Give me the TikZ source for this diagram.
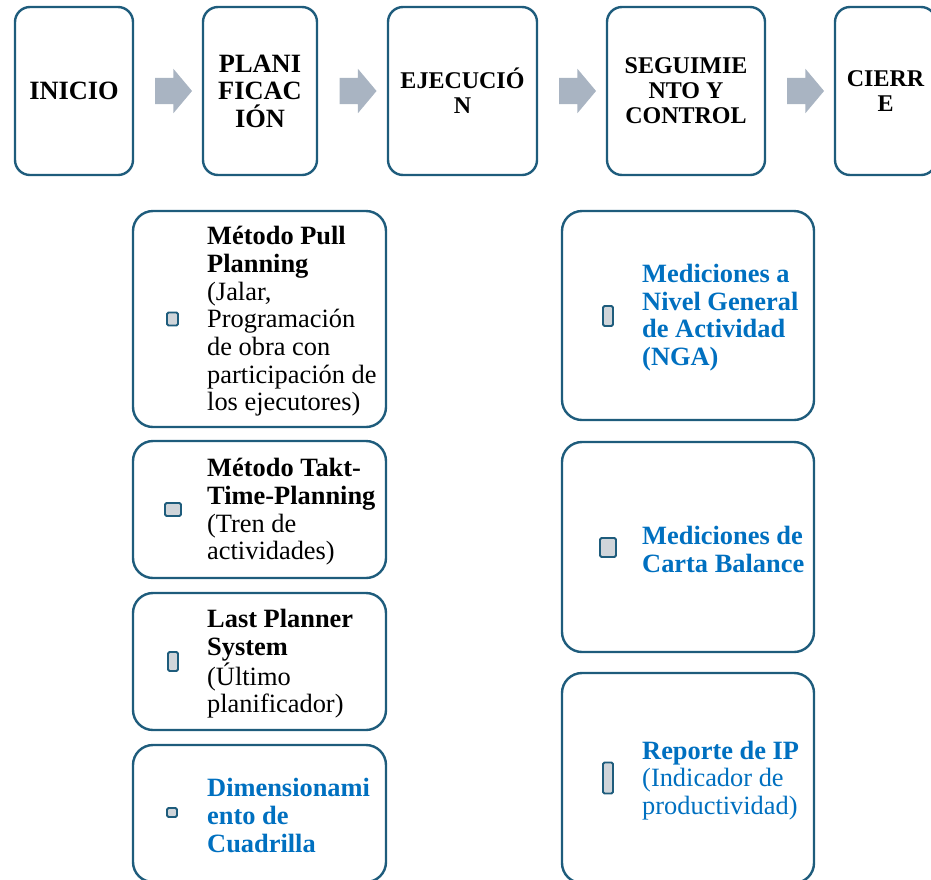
\documentclass[tikz,border=0pt]{standalone}
\usepackage{fontspec}
\setmainfont{Liberation Serif}
\usetikzlibrary{positioning,calc,shapes.arrows}

\definecolor{borde}{HTML}{1E5C7C}
\definecolor{azul}{HTML}{0070C0}
\definecolor{grisflecha}{HTML}{A9B4C2}
\definecolor{grisvineta}{HTML}{D0D5DA}

\begin{document}
\begin{tikzpicture}[x=1pt, y=-1pt,
		etapa/.style={draw=borde, line width=2.4pt, rounded corners=15pt, fill=white, align=center, inner sep=0pt, minimum height=168pt, font=\fontsize{24}{25}\selectfont\bfseries},
		grande/.style={font=\fontsize{26.4}{27.5}\selectfont\bfseries},
		caja/.style={draw=borde, line width=2.4pt, rounded corners=20pt, fill=white},
		vineta/.style={draw=borde, fill=grisvineta, line width=1.9pt, rounded corners=1.5pt, inner sep=0pt},
		texto/.style={anchor=west, align=left, inner sep=0pt, font=\fontsize{26.4}{27.7}\selectfont},
		textoazul/.style={texto, text=azul, font=\fontsize{26.4}{27.7}\selectfont\bfseries},
		flecha/.style={single arrow, fill=grisflecha, inner sep=0pt, inner ysep=13pt, minimum height=37pt, single arrow head extend=9pt, single arrow tip angle=100}]
			\useasboundingbox (0,0) rectangle (931,879);
			\clip (0,0) rectangle (931,879);
			% etapas
			\node [etapa, grande, minimum width=118pt] (inicio) at (74,91) {INICIO};
			\node [etapa, grande, minimum width=114pt] (plan) at (260,91) {PLANI\\FICAC\\IÓN};
			\node [etapa, minimum width=149pt] (ejec) at (462.5,91) {EJECUCIÓ\\N};
			\node [etapa, minimum width=158pt] (segui) at (686,91) {SEGUIMIE\\NTO Y\\CONTROL};
			\node [etapa, minimum width=101pt] (cierre) at (885.5,91) {CIERR\\E};
			\foreach \a/\b [count=\i] in {inicio/plan, plan/ejec, ejec/segui, segui/cierre}
				\node [flecha] (f\i) at ($(\a.east)!0.5!(\b.west)$) {};
			% planificacion
			\node [caja, minimum width=253pt, minimum height=216pt] (p1) at (259.5,319) {};
			\node [caja, minimum width=253pt, minimum height=137pt] (p2) at (259.5,509.5) {};
			\node [caja, minimum width=253pt, minimum height=137pt] (p3) at (259.5,661.5) {};
			\node [caja, minimum width=253pt, minimum height=137pt] (p4) at (259.5,813.5) {};
			\node [vineta, minimum width=11pt, minimum height=13pt] (v1) at (172.5,319) {};
			\node [vineta, minimum width=16pt, minimum height=13pt] (v2) at (173,509.5) {};
			\node [vineta, minimum width=10pt, minimum height=19pt] (v3) at (173,661.5) {};
			\node [vineta, minimum width=10pt, minimum height=9pt] (v4) at (172,812.5) {};
			\node [texto] (t1) at (207,321.5) {\textbf{Método Pull}\\\textbf{Planning}\\(Jalar,\\Programación\\de obra con\\participación de\\los ejecutores)};
			\node [texto] (t2) at (207,512) {\textbf{Método Takt-}\\\textbf{Time-Planning}\\(Tren de\\actividades)};
			\node [texto] (t3) at (207,664) {\textbf{Last Planner}\\\textbf{System}\\(Último\\planificador)};
			\node [textoazul] (t4) at (207,815.5) {Dimensionami\\ento de\\Cuadrilla};
			% seguimiento
			\node [caja, minimum width=252pt, minimum height=209pt] (s1) at (688,315.5) {};
			\node [caja, minimum width=252pt, minimum height=210pt] (s2) at (688,547) {};
			\node [caja, minimum width=252pt, minimum height=210pt] (s3) at (688,778) {};
			\node [vineta, minimum width=10pt, minimum height=20pt] (w1) at (608,316) {};
			\node [vineta, minimum width=16pt, minimum height=19pt] (w2) at (608,547.5) {};
			\node [vineta, minimum width=10pt, minimum height=31pt] (w3) at (608,778) {};
			\node [textoazul] (u1) at (642,317.5) {Mediciones a\\Nivel General\\de Actividad\\(NGA)};
			\node [textoazul] (u2) at (642,549.5) {Mediciones de\\Carta Balance};
			\node [texto, text=azul] (u3) at (642,780.5) {\textbf{Reporte de IP}\\(Indicador de\\productividad)};
		\end{tikzpicture}
\end{document}
